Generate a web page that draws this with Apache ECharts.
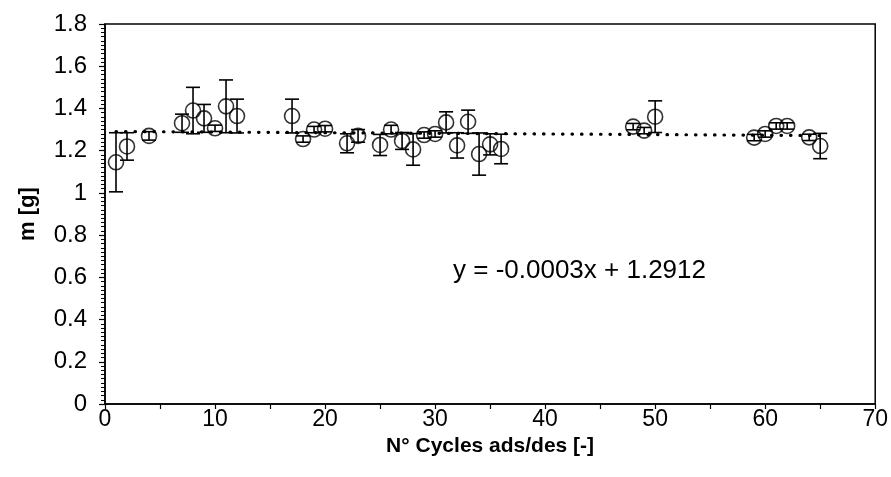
<!DOCTYPE html>
<html>
<head>
<meta charset="utf-8">
<script src="https://cdn.jsdelivr.net/npm/echarts@6.0.0/dist/echarts.min.js"></script>
<style>
html, body { margin: 0; padding: 0; background: #fff; }
#chart { width: 891px; height: 477px; }
</style>
</head>
<body>
<div id="chart"></div>
<script>
// cycle data
var cycles = [1, 2, 4, 7, 8, 9, 10, 11, 12, 17, 18, 19, 20, 22, 23, 25, 26, 27, 28, 29, 30, 31, 32, 33, 34, 35, 36, 48, 49, 50, 59, 60, 61, 62, 64, 65];
var mass = [1.145, 1.22, 1.27, 1.33, 1.39, 1.353, 1.306, 1.41, 1.364, 1.364, 1.255, 1.30, 1.304, 1.235, 1.27, 1.227, 1.30, 1.246, 1.206, 1.274, 1.279, 1.334, 1.225, 1.337, 1.184, 1.23, 1.208, 1.314, 1.295, 1.361, 1.262, 1.279, 1.317, 1.317, 1.263, 1.222];
var massErr = [0.14, 0.065, 0.02, 0.043, 0.11, 0.066, 0.015, 0.125, 0.08, 0.08, 0.015, 0.015, 0.015, 0.045, 0.03, 0.05, 0.02, 0.04, 0.075, 0.015, 0.015, 0.05, 0.06, 0.055, 0.1, 0.05, 0.07, 0.015, 0.015, 0.075, 0.015, 0.015, 0.015, 0.015, 0.015, 0.06];

// linear trend y = -0.0003x + 1.2912, end points
var trendX = [1, 65];
var trendY = [1.2909, 1.2717];
var trendLabel = 'y = -0.0003x + 1.2912';

var points = [];
var errBars = [];
for (var i = 0; i < cycles.length; i++) {
    points.push([cycles[i], mass[i]]);
    errBars.push([cycles[i], mass[i] - massErr[i], mass[i] + massErr[i]]);
};
var trend = [];
for (var j = 0; j < trendX.length; j++) {
    trend.push([trendX[j], trendY[j]]);
};

var chart = echarts.init(document.getElementById('chart'));
chart.setOption({
    animation: false,
    grid: {
        left: 105,
        right: 14,
        top: 24,
        bottom: 73,
        show: true,
        borderColor: '#000',
        borderWidth: 1.5,
        backgroundColor: 'transparent'
    },
    xAxis: {
        type: 'value',
        min: 0,
        max: 70,
        interval: 10,
        name: 'N° Cycles ads/des [-]',
        nameLocation: 'middle',
        nameMoveOverlap: false,
        nameGap: 32,
        nameTextStyle: { fontFamily: 'Liberation Sans', fontWeight: 'bold', fontSize: 21, color: '#000' },
        axisLine: { lineStyle: { color: '#000', width: 1.5 } },
        axisTick: { show: true, length: 5, lineStyle: { color: '#000', width: 1.2 } },
        minorTick: { show: true, splitNumber: 2, length: 5, lineStyle: { color: '#000', width: 1.2 } },
        axisLabel: { fontFamily: 'Liberation Sans', fontSize: 23, color: '#000', margin: 4 },
        splitLine: { show: false }
    },
    yAxis: {
        type: 'value',
        min: 0,
        max: 1.8,
        interval: 0.2,
        name: 'm [g]',
        nameLocation: 'middle',
        nameMoveOverlap: false,
        nameGap: 66,
        nameTextStyle: { fontFamily: 'Liberation Sans', fontWeight: 'bold', fontSize: 22, color: '#000' },
        axisLine: { lineStyle: { color: '#000', width: 1.5 } },
        axisTick: { show: true, length: 6, lineStyle: { color: '#000', width: 1.2 } },
        minorTick: { show: true, splitNumber: 10, length: 4, lineStyle: { color: '#000', width: 1 } },
        axisLabel: {
            fontFamily: 'Liberation Sans', fontSize: 24, color: '#000', margin: 18,
            formatter: function (v) {
                return String(+v.toFixed(1));
            }
        },
        splitLine: { show: false }
    },
    series: [{
        name: 'trend',
        type: 'line',
        data: trend,
        symbol: 'none',
        lineStyle: { color: '#000', width: 3.2, type: [0.5, 9], cap: 'round' },
        z: 1
    }, {
        name: 'error',
        type: 'custom',
        data: errBars,
        renderItem: function (params, api) {
            var x = api.value(0);
            var lo = api.coord([x, api.value(1)]);
            var hi = api.coord([x, api.value(2)]);
            var cap = 7;
            var style = { stroke: '#000', lineWidth: 1.6 };
            return {
                type: 'group',
                children: [
                    { type: 'line', shape: { x1: lo[0], y1: lo[1], x2: hi[0], y2: hi[1] }, style: style },
                    { type: 'line', shape: { x1: lo[0] - cap, y1: lo[1], x2: lo[0] + cap, y2: lo[1] }, style: style },
                    { type: 'line', shape: { x1: hi[0] - cap, y1: hi[1], x2: hi[0] + cap, y2: hi[1] }, style: style }
                ]
            };
        },
        z: 2
    }, {
        name: 'm',
        type: 'scatter',
        data: points,
        symbol: 'circle',
        symbolSize: 15,
        itemStyle: { color: 'transparent', borderColor: '#000', borderWidth: 1.6 },
        z: 3
    }],
    graphic: [{
        type: 'text',
        left: 453,
        top: 258,
        style: {
            text: trendLabel,
            fontFamily: 'Liberation Sans',
            fontSize: 26,
            fill: '#000'
        }
    }]
});
</script>
</body>
</html>
